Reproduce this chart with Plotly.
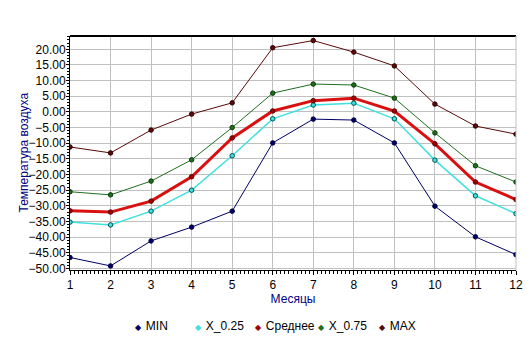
import plotly.graph_objects as go

months = [1, 2, 3, 4, 5, 6, 7, 8, 9, 10, 11, 12]
t_min = [-46.5, -49.2, -41.2, -36.8, -31.7, -9.9, -2.3, -2.6, -9.9, -30.1, -39.9, -45.6]
t_q25 = [-35.2, -36.1, -31.7, -25.0, -14.0, -2.2, 2.2, 2.8, -2.2, -15.4, -26.8, -32.5]
t_mean = [-31.6, -32.0, -28.5, -20.7, -8.3, 0.3, 3.6, 4.4, 0.3, -10.2, -22.4, -28.0]
t_q75 = [-25.5, -26.5, -22.1, -15.3, -5.0, 6.0, 8.9, 8.6, 4.4, -6.7, -17.2, -22.4]
t_max = [-11.2, -13.1, -5.8, -0.7, 2.9, 20.5, 22.8, 19.1, 14.7, 2.5, -4.5, -7.1]

series = [
    ("MIN", t_min, "#000066", "#000040", "#000066", 1),
    ("X_0.25", t_q25, "#40E0E0", "#005050", "#40E0E0", 1.5),
    ("Среднее", t_mean, "#D81010", "#600000", "#A00000", 3),
    ("X_0.75", t_q75, "#1E6E1E", "#0A3A0A", "#1E6E1E", 1),
    ("MAX", t_max, "#5A0A0A", "#300000", "#5A0A0A", 1),
]
# legend symbol centres (px) for each entry
legend_x_px = [139, 199, 259, 322, 383]

fig = go.Figure()
for name, vals, lc, mline, mfill, w in series:
    fig.add_trace(go.Scatter(
        x=months, y=vals, mode="lines+markers", name=name, showlegend=False,
        line=dict(color=lc, width=w),
        marker=dict(size=4.5, color=mfill, line=dict(color=mline, width=1)),
    ))

font = "Liberation Sans, Arial, sans-serif"
legend_layouts = {}
for i, (name, vals, lc, mline, mfill, w) in enumerate(series):
    lname = "legend" if i == 0 else f"legend{i + 1}"
    label = (f'<span style="font-size:8px;color:{mfill}">◆</span>'
             f'<span style="font-size:6px"> </span> {name}')
    fig.add_trace(go.Scatter(
        x=[None], y=[None], mode="none", name=label, showlegend=True, legend=lname,
    ))
    legend_layouts[lname] = dict(
        orientation="h", xref="container", yref="container",
        x=(legend_x_px[i] - 44.2) / 532, xanchor="left",
        y=1 - 325 / 347, yanchor="middle",
        font=dict(size=12, family=font), itemwidth=30, bgcolor="rgba(0,0,0,0)",
    )

fig.update_layout(
    width=532, height=347,
    margin=dict(l=70, r=16, t=36, b=77, autoexpand=False),
    paper_bgcolor="white", plot_bgcolor="white",
    font=dict(family=font, size=12, color="black"),
    xaxis=dict(range=[1, 12], dtick=1, tick0=1, showgrid=True, gridcolor="#C0C0C0",
               gridwidth=1, showline=True, linecolor="black", linewidth=1, mirror=False,
               ticks="outside", ticklen=4, tickcolor="black",
               minor=dict(dtick=0.1, ticks="outside", ticklen=3, tickcolor="black", showgrid=False),
               title=dict(text="Месяцы", font=dict(color="#000080", size=12), standoff=0),
               zeroline=False),
    yaxis=dict(range=[-50.5, 24.25], dtick=5, tick0=0, tickformat=".2f",
               showgrid=True, gridcolor="#C0C0C0", gridwidth=1,
               showline=True, linecolor="black", linewidth=1,
               ticks="outside", ticklen=3, tickcolor="black", ticklabelstandoff=-2,
               minor=dict(dtick=1, ticks="outside", ticklen=2, tickcolor="black", showgrid=False),
               zeroline=False),
    **legend_layouts,
)
# y axis title placed as in the reference
fig.add_annotation(text="Температура воздуха", textangle=-90, showarrow=False,
                   xref="paper", yref="paper", x=-(70 - 23.5) / 446, y=0.5,
                   xanchor="center", yanchor="middle",
                   font=dict(color="#000080", size=12, family=font))
# top border black, right border grey
fig.add_shape(type="line", xref="paper", yref="paper", x0=0, x1=1, y0=1, y1=1,
              line=dict(color="black", width=2))
fig.add_shape(type="line", xref="paper", yref="paper", x0=1, x1=1, y0=0, y1=1,
              line=dict(color="#C0C0C0", width=1))

fig.write_html("out.html")
